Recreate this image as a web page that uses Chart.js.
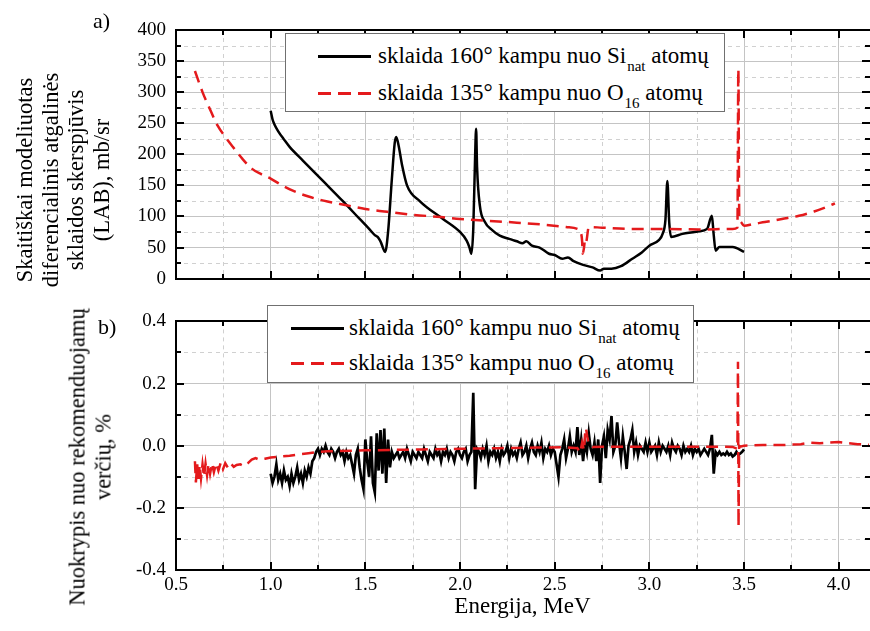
<!DOCTYPE html>
<html>
<head>
<meta charset="utf-8">
<script src="https://cdn.jsdelivr.net/npm/chart.js@4.4.1/dist/chart.umd.min.js"></script>
<style>
  html, body { margin:0; padding:0; background:#fff; }
  #wrap { position:relative; width:870px; height:631px; overflow:hidden; background:#fff;
          font-family:"Liberation Serif","DejaVu Serif",serif; color:#000; }
  canvas { position:absolute; left:0; }
  .lbl { position:absolute; white-space:nowrap; line-height:22px; font-size:22px; z-index:5; }
  .ytitle { position:absolute; white-space:nowrap; text-align:center; font-size:22.5px; line-height:25.5px;
            transform:translate(-50%,-50%) rotate(-90deg); z-index:5; }
  .legend { position:absolute; background:#fff; border:1px solid #707070; box-sizing:border-box; z-index:6; }
  .legend .row { position:absolute; white-space:nowrap; font-size:23px; line-height:26px; }
  .legend .row sub { font-size:15px; vertical-align:-8px; line-height:0; margin-left:1px; }
  .legend .sw { position:absolute; height:3px; width:53px; }
  .legend .sw.solid { background:#000; }
  .legend .sw.dash { background:repeating-linear-gradient(to right,#e41a1c 0 13px,transparent 13px 20px); }
</style>
</head>
<body>
<div id="wrap">
  <canvas id="cTop" width="870" height="300" style="top:0"></canvas>
  <canvas id="cBot" width="870" height="331" style="top:300px"></canvas>

  <div class="lbl" style="left:93px;top:10px">a)</div>
  <div class="lbl" style="left:98px;top:316px">b)</div>

  <div class="ytitle" style="left:63px;top:180px">Skaitiškai modeliuotas<br>diferencialinis atgalinės<br>sklaidos skerspjūvis<br>(LAB), mb/sr</div>
  <div class="ytitle" style="left:90px;top:457px">Nuokrypis nuo rekomenduojamų<br>verčių, %</div>

  <div class="legend" style="left:285px;top:33px;width:440px;height:79px">
    <div class="sw solid" style="left:32px;top:21px"></div>
    <div class="row" style="left:92px;top:9px">sklaida 160° kampu nuo Si<sub>nat</sub> atomų</div>
    <div class="sw dash" style="left:32px;top:58px"></div>
    <div class="row" style="left:92px;top:46px">sklaida 135° kampu nuo O<sub>16</sub> atomų</div>
  </div>
  <div class="legend" style="left:267px;top:305px;width:427px;height:78px">
    <div class="sw solid" style="left:23px;top:21px"></div>
    <div class="row" style="left:81px;top:9px">sklaida 160° kampu nuo Si<sub>nat</sub> atomų</div>
    <div class="sw dash" style="left:23px;top:56px"></div>
    <div class="row" style="left:81px;top:44px">sklaida 135° kampu nuo O<sub>16</sub> atomų</div>
  </div>
</div>

<script>
// ---------- tick values ----------
const xTicks   = [0.5, 1.0, 1.5, 2.0, 2.5, 3.0, 3.5, 4.0];
const xMinor   = [0.75, 1.25, 1.75, 2.25, 2.75, 3.25, 3.75];
const yTopTicks = [0, 50, 100, 150, 200, 250, 300, 350, 400];
const yTopMinor = [25, 75, 125, 175, 225, 275, 325, 375];
const yBotTicks = [-0.4, -0.2, 0.0, 0.2, 0.4];
const yBotMinor = [-0.3, -0.1, 0.1, 0.3];

// ---------- panel a: cross sections (mb/sr) ----------
const siE = [1.00,1.01,1.02,1.04,1.07,1.10,1.17,1.28,1.38,1.47,1.52,1.55,1.565,1.58,1.605,1.62,1.64,1.655,1.663,1.675,
             1.695,1.72,1.79,1.91,2.00,2.035,2.05,2.06,2.07,2.08,2.085,2.09,2.105,2.13,2.17,2.21,2.26,2.28,2.30,2.33,
             2.35,2.38,2.42,2.47,2.50,2.54,2.57,2.60,2.65,2.70,2.74,2.76,2.80,2.85,2.91,2.96,3.00,3.05,3.07,3.085,
             3.095,3.105,3.115,3.175,3.26,3.305,3.33,3.34,3.35,3.37,3.44,3.50];
const siVal = [270,256,248,237,224,212,190,156,125,96,80,70,67,60,43,75,160,218,228,215,
               181,150,124,96,75,61,50,40,80,200,241,180,117,92,78,69,64,62,60,57,
               60,53,50,40,38,32,34,28,22,18,13,16,16,20,32,42,53,62,72,95,
               157,90,67,72,76,80,101,70,45,51,51,43];

const oE = [0.60,0.64,0.68,0.72,0.76,0.80,0.85,0.90,0.95,1.00,1.06,1.12,1.20,1.30,1.40,1.50,1.60,1.74,1.90,2.00,
            2.15,2.30,2.47,2.56,2.62,2.635,2.645,2.648,2.655,2.66,2.665,2.68,2.75,2.91,3.10,3.26,3.44,3.465,3.47,3.475,
            3.48,3.50,3.55,3.61,3.70,3.79,3.87,3.95,3.98];
const oVal = [334,300,272,246,228,212,193,177,168,161,150,141,132,124,118,112,108,103,99,96,
              93,90,86,83,80,76,60,40,50,62,58,83,82,80,80,79,80,82,337,96,
              92,85,88,91,96,101,108,117,121];

// ---------- panel b: deviation from recommended values (%) ----------
const siDevStart = 1.00, siDevStep = 0.01;   // energies 1.00 ... 3.50 MeV
const siDevVal = [
  -0.09,-0.12,-0.10,-0.06,-0.11,-0.09,-0.12,-0.08,-0.11,-0.10,
  -0.13,-0.09,-0.12,-0.10,-0.07,-0.11,-0.09,-0.12,-0.08,-0.10,
  -0.07,-0.09,-0.05,-0.04,-0.02,-0.01,-0.03,-0.01,-0.02,0.00,
  -0.02,-0.03,-0.01,-0.02,-0.04,-0.02,-0.01,-0.03,-0.02,-0.05,
  -0.02,-0.04,-0.03,-0.06,-0.09,-0.03,-0.01,-0.07,-0.11,-0.14,
  0.02,-0.05,-0.10,0.03,-0.12,-0.15,0.04,-0.08,0.05,-0.09,
  0.055,-0.12,0.02,-0.07,-0.02,-0.04,-0.03,-0.02,-0.04,-0.03,
  -0.02,-0.04,-0.01,-0.03,-0.05,-0.02,-0.03,-0.04,-0.02,-0.03,
  -0.04,-0.01,-0.03,-0.05,-0.02,-0.03,-0.04,-0.01,-0.03,-0.02,
  -0.05,-0.02,-0.03,-0.01,-0.04,-0.02,-0.03,-0.05,-0.02,-0.01,
  -0.03,-0.04,-0.02,-0.01,-0.05,-0.03,-0.02,0.17,-0.14,-0.01,
  -0.02,-0.04,-0.01,-0.03,0.00,-0.05,-0.02,-0.03,-0.01,-0.04,
  -0.02,-0.05,-0.01,-0.03,-0.02,0.00,-0.04,-0.01,-0.03,-0.02,
  -0.04,-0.01,0.01,-0.03,-0.02,0.00,-0.04,-0.01,0.01,-0.02,
  -0.03,0.00,-0.02,0.01,-0.04,-0.01,-0.02,0.00,-0.03,-0.01,
  -0.02,-0.06,-0.10,-0.03,-0.01,0.02,-0.04,-0.01,0.03,-0.02,
  0.00,-0.02,0.06,-0.03,0.02,-0.05,0.01,-0.02,0.04,-0.01,
  -0.03,0.01,-0.05,0.02,-0.12,0.00,0.03,-0.04,0.05,0.02,
  0.095,-0.02,0.00,0.075,0.01,-0.04,0.03,-0.02,-0.075,0.00,
  0.02,0.05,-0.02,0.01,-0.03,0.00,-0.01,-0.02,0.01,-0.02,
  0.01,-0.02,-0.01,0.00,-0.03,0.01,-0.02,0.00,-0.01,-0.02,
  0.00,-0.03,0.01,-0.01,-0.02,0.00,-0.01,-0.03,0.00,-0.02,
  -0.01,-0.02,0.00,-0.03,-0.01,-0.02,-0.01,-0.03,-0.02,-0.01,
  -0.02,-0.03,-0.01,0.035,-0.09,-0.02,-0.03,-0.02,-0.03,-0.025,
  -0.03,-0.02,-0.03,-0.025,-0.035,-0.03,-0.02,-0.03,-0.025,-0.02,
  -0.012];

const oDevE = [0.600,0.605,0.612,0.618,0.625,0.632,0.640,0.648,0.656,0.664,0.672,0.680,0.690,0.700,0.712,0.724,0.736,0.748,0.760,0.775,
               0.790,0.805,0.82,0.84,0.86,0.88,0.90,0.92,0.94,0.97,1.00,1.05,1.10,1.20,1.25,1.30,1.50,1.80,2.00,2.20,
               2.40,2.55,2.62,2.635,2.645,2.655,2.66,2.665,2.672,2.68,2.70,2.90,3.10,3.30,3.44,3.465,3.468,3.471,3.474,3.48,
               3.50,3.60,3.70,3.80,3.85,3.90,3.95,4.00,4.05,4.10,4.16];
const oDevVal = [-0.050,-0.118,-0.060,-0.112,-0.062,-0.105,-0.060,-0.100,-0.058,-0.095,-0.058,-0.090,-0.056,-0.085,-0.056,-0.080,-0.055,-0.076,-0.056,-0.072,
                 -0.058,-0.068,-0.062,-0.060,-0.066,-0.056,-0.045,-0.040,-0.045,-0.042,-0.038,-0.035,-0.032,-0.024,-0.020,-0.018,-0.015,-0.012,-0.010,-0.008,
                 -0.006,-0.005,-0.008,-0.022,0.010,-0.015,0.035,0.057,0.030,0.005,-0.004,-0.003,-0.003,-0.003,-0.004,-0.010,0.270,-0.260,0.000,-0.003,
                 0.000,0.002,0.002,0.005,0.010,0.008,0.010,0.012,0.008,0.005,0.003];

const siLabel = 'sklaida 160° kampu nuo Si(nat) atomų';
const oLabel  = 'sklaida 135° kampu nuo O(16) atomų';

// ---------- helpers ----------
Chart.defaults.font.family = '"Liberation Serif","DejaVu Serif",serif';
Chart.defaults.color = '#000';

const pts = (xs, ys) => xs.map((x, i) => ({ x: x, y: ys[i] }));
const siDevE = siDevVal.map((_, i) => +(siDevStart + i * siDevStep).toFixed(2));

function makeFrame(xMaj, xMin, yMaj, yMin) {
  return {
    id: 'frameTicks',
    beforeDatasetsDraw(chart) {
      const { ctx, chartArea: a, scales: { x, y } } = chart;
      ctx.save();
      ctx.strokeStyle = '#d0d0d0';
      ctx.lineWidth = 1;
      ctx.setLineDash([4, 4]);
      ctx.beginPath();
      xMin.forEach(v => { const p = Math.round(x.getPixelForValue(v)) + 0.5; ctx.moveTo(p, a.top); ctx.lineTo(p, a.bottom); });
      yMin.forEach(v => { const p = Math.round(y.getPixelForValue(v)) + 0.5; ctx.moveTo(a.left, p); ctx.lineTo(a.right, p); });
      ctx.stroke();
      ctx.restore();
    },
    afterDraw(chart) {
      const { ctx, chartArea: a, scales: { x, y } } = chart;
      const L = Math.round(a.left), R = Math.round(a.right), T = Math.round(a.top), B = Math.round(a.bottom);
      ctx.save();
      ctx.strokeStyle = '#000';
      ctx.lineWidth = 2;
      ctx.setLineDash([]);
      ctx.beginPath();
      ctx.moveTo(L - 1, T); ctx.lineTo(R + 2, T);
      ctx.moveTo(L, T - 1); ctx.lineTo(L, B + 1);
      ctx.moveTo(L - 1, B); ctx.lineTo(R + 2, B);
      const xt = (vals, len) => vals.forEach(v => {
        const p = Math.round(x.getPixelForValue(v));
        ctx.moveTo(p, B); ctx.lineTo(p, B - len);
        ctx.moveTo(p, T); ctx.lineTo(p, T + len);
      });
      const yt = (vals, len) => vals.forEach(v => {
        const p = Math.round(y.getPixelForValue(v));
        ctx.moveTo(L, p); ctx.lineTo(L + len, p);
        ctx.moveTo(R + 1, p); ctx.lineTo(R + 1 - len, p);
      });
      xt(xMaj, 8); xt(xMin, 5); yt(yMaj, 8); yt(yMin, 5);
      ctx.stroke();
      ctx.restore();
    }
  };
}

function baseScales(yMin, yMax, yTicks, yFmt, showX, xHeight) {
  return {
    x: {
      type: 'linear', min: 0.5, max: 4.16,
      afterBuildTicks: s => { s.ticks = xTicks.map(v => ({ value: v })); },
      ticks: { display: showX, font: { size: 19 }, color: '#000', padding: 4, maxRotation: 0, autoSkip: false,
               callback: v => Number(v).toFixed(1) },
      grid: { color: '#c4c4c4', lineWidth: 1, drawTicks: false },
      border: { display: false },
      title: showX ? { display: true, text: 'Energija, MeV', font: { size: 23 }, color: '#000', padding: { top: 0, bottom: 10 } }
                   : { display: false },
      afterFit: s => { s.height = xHeight; }
    },
    y: {
      type: 'linear', min: yMin, max: yMax,
      afterBuildTicks: s => { s.ticks = yTicks.map(v => ({ value: v })); },
      ticks: { font: { size: 19 }, color: '#000', padding: 10, callback: yFmt },
      grid: { color: '#c4c4c4', lineWidth: 1, drawTicks: false },
      border: { display: false },
      afterFit: s => { s.width = 176; }
    }
  };
}

const lineStyle = {
  red:   { borderColor: '#e41a1c', borderWidth: 2.5, borderDash: [12, 7], pointRadius: 0, tension: 0, fill: false },
  black: { borderColor: '#000000', borderWidth: 2.5, pointRadius: 0, tension: 0, fill: false }
};

new Chart(document.getElementById('cTop'), {
  type: 'line',
  data: { datasets: [
    Object.assign({ label: oLabel,  data: pts(oE, oVal) }, lineStyle.red, { cubicInterpolationMode: 'monotone' }),
    Object.assign({ label: siLabel, data: pts(siE, siVal) }, lineStyle.black, { cubicInterpolationMode: 'monotone' })
  ]},
  options: {
    responsive: false, animation: false, devicePixelRatio: 1,
    layout: { padding: { top: 30, right: 1, left: 0, bottom: 0 } },
    plugins: { legend: { display: false }, tooltip: { enabled: false } },
    scales: baseScales(0, 400, yTopTicks, v => String(v), false, 20)
  },
  plugins: [makeFrame(xTicks, xMinor, yTopTicks, yTopMinor)]
});

new Chart(document.getElementById('cBot'), {
  type: 'line',
  data: { datasets: [
    Object.assign({ label: oLabel,  data: pts(oDevE, oDevVal) }, lineStyle.red),
    Object.assign({ label: siLabel, data: pts(siDevE, siDevVal) }, lineStyle.black, { borderWidth: 2.7 })
  ]},
  options: {
    responsive: false, animation: false, devicePixelRatio: 1,
    layout: { padding: { top: 17, right: 1, left: 0, bottom: 0 } },
    plugins: { legend: { display: false }, tooltip: { enabled: false } },
    scales: baseScales(-0.4, 0.4, yBotTicks, v => Number(v).toFixed(1), true, 61)
  },
  plugins: [makeFrame(xTicks, xMinor, yBotTicks, yBotMinor)]
});
</script>
</body>
</html>
